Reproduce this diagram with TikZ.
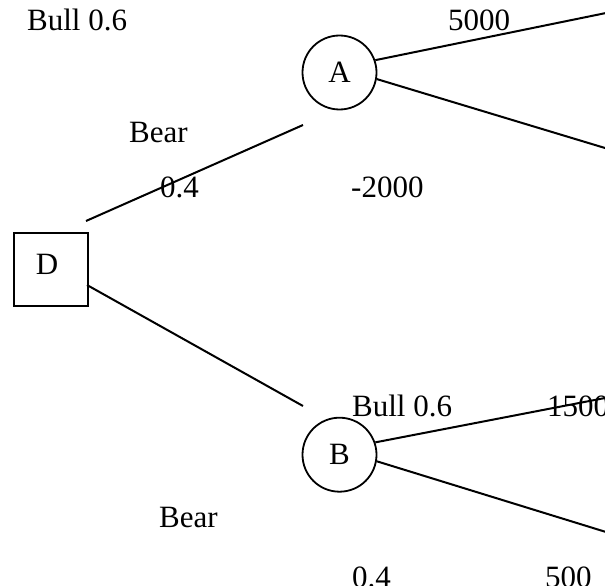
\documentclass[tikz,border=0pt]{standalone}
\usepackage{fontspec}
\setmainfont{Liberation Serif}
\begin{document}
\begin{tikzpicture}[x=1pt,y=-1pt,
  every node/.style={font=\fontsize{31}{37}\selectfont, inner sep=0pt},
  chance/.style={draw, circle, line width=1.8pt, minimum size=74pt},
  decision/.style={draw, rectangle, line width=1.8pt, minimum width=74pt, minimum height=73pt},
  branch/.style={line width=2pt},
  txt/.style={anchor=base west}]
\useasboundingbox (0,0) rectangle (605,586);

% decision and chance nodes
\node[decision] (D) at (51,269.5) {};
\node[anchor=base] (Dlbl) at (47,274) {D};
\node[chance] (A) at (339.5,72.5) {A};
\node[chance] (B) at (339.5,454.7) {B};

% free ends of the branches
\coordinate (dA) at (86,221);
\coordinate (aD) at (303,125);
\coordinate (dB) at (87,285);
\coordinate (bD) at (303,406);
\coordinate (aUp) at (606,13);
\coordinate (aDown) at (606,148.3);
\coordinate (bUp) at (606,397.8);
\coordinate (bDown) at (606,532);

% branches
\draw[branch] (dA) -- (aD);
\draw[branch] (dB) -- (bD);
\draw[branch] (A.19) -- (aUp);
\draw[branch] (A.-10) -- (aDown);
\draw[branch] (B.19) -- (bUp);
\draw[branch] (B.-10.5) -- (bDown);

% labels
\node[txt] (t1) at (27,31) {Bull 0.6};
\node[txt] (t2) at (448,30.5) {5000};
\node[txt] (t3) at (129,142) {Bear};
\node[txt] (t4) at (160,197) {0.4};
\node[txt] (t5) at (351,197) {-2000};
\node[txt] (t6) at (352,416.7) {Bull 0.6};
\node[txt] (t7) at (547,416.5) {1500};
\node[txt] (t8) at (159,527) {Bear};
\node[txt] (t9) at (352,587) {0.4};
\node[txt] (t10) at (545,587) {500};
\end{tikzpicture}
\end{document}
